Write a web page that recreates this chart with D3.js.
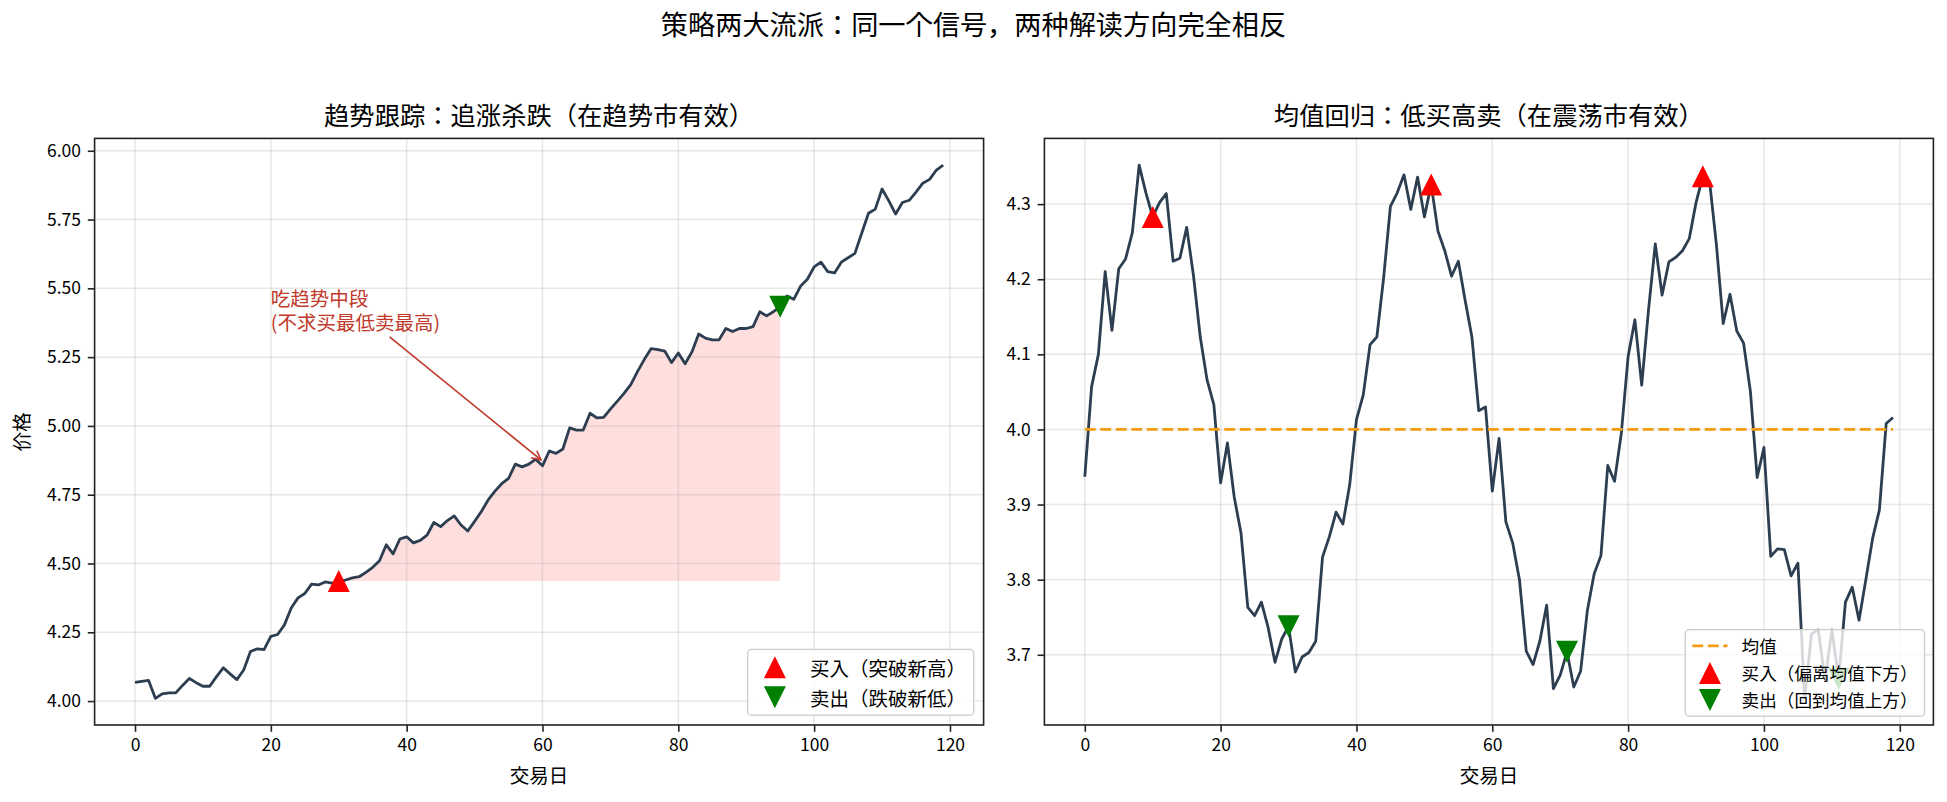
<!DOCTYPE html>
<html>
<head>
<meta charset="utf-8">
<script src="https://d3js.org/d3.v7.min.js"></script>
<style>
  body { margin: 0; background: #fff; }
  text { font-family: "Noto Sans CJK JP", "Noto Sans CJK SC", "Noto Sans", sans-serif; fill: #000; }
</style>
</head>
<body>
<svg id="chart" width="1947" height="802"></svg>
<script>
// ---- data ----
var suptitle = "策略两大流派：同一个信号，两种解读方向完全相反";
var leftTitle = "趋势跟踪：追涨杀跌（在趋势市有效）";
var rightTitle = "均值回归：低买高卖（在震荡市有效）";
var xLabel = "交易日";
var yLabel = "价格";

var xTicks = [0, 20, 40, 60, 80, 100, 120];
var trendTicks = [4.00, 4.25, 4.50, 4.75, 5.00, 5.25, 5.50, 5.75, 6.00];
var revertTicks = [3.7, 3.8, 3.9, 4.0, 4.1, 4.2, 4.3];

// trend-following price, one value per trading day (0..119)
var trendPrice = [
  4.068, 4.072, 4.075, 4.010, 4.026, 4.030, 4.030, 4.057, 4.082, 4.067,
  4.054, 4.054, 4.089, 4.121, 4.099, 4.078, 4.113, 4.180, 4.190, 4.187,
  4.235, 4.242, 4.277, 4.338, 4.375, 4.391, 4.425, 4.422, 4.433, 4.429,
  4.436, 4.440, 4.448, 4.452, 4.468, 4.486, 4.510, 4.568, 4.535, 4.589,
  4.597, 4.575, 4.584, 4.603, 4.649, 4.634, 4.656, 4.673, 4.640, 4.618,
  4.653, 4.689, 4.731, 4.763, 4.790, 4.809, 4.861, 4.851, 4.861, 4.879,
  4.855, 4.909, 4.900, 4.916, 4.993, 4.985, 4.985, 5.046, 5.029, 5.031,
  5.061, 5.089, 5.118, 5.150, 5.198, 5.242, 5.281, 5.277, 5.272, 5.230,
  5.265, 5.226, 5.269, 5.334, 5.319, 5.313, 5.313, 5.354, 5.343, 5.354,
  5.354, 5.361, 5.415, 5.400, 5.415, 5.433, 5.472, 5.460, 5.508, 5.533,
  5.578, 5.595, 5.561, 5.556, 5.595, 5.611, 5.627, 5.700, 5.773, 5.788,
  5.861, 5.818, 5.770, 5.812, 5.820, 5.850, 5.882, 5.896, 5.930, 5.948
];
var trendBuyDays = [30];
var trendSellDays = [95];
var trendNote = ["吃趋势中段", "(不求买最低卖最高)"];
var trendNoteAt = [20, 5.35];
var trendNoteTarget = [60, 4.872];

// mean-reversion price, one value per trading day (0..119)
var revertPrice = [
  3.937, 4.057, 4.100, 4.210, 4.132, 4.214, 4.227, 4.262, 4.352, 4.315,
  4.283, 4.302, 4.314, 4.224, 4.228, 4.269, 4.205, 4.123, 4.066, 4.033,
  3.929, 3.982, 3.910, 3.862, 3.763, 3.752, 3.770, 3.736, 3.690, 3.721,
  3.738, 3.677, 3.697, 3.703, 3.718, 3.830, 3.857, 3.890, 3.874, 3.926,
  4.013, 4.046, 4.113, 4.123, 4.202, 4.297, 4.315, 4.339, 4.293, 4.336,
  4.283, 4.326, 4.264, 4.238, 4.204, 4.224, 4.172, 4.123, 4.025, 4.030,
  3.918, 3.988, 3.877, 3.849, 3.800, 3.705, 3.687, 3.718, 3.766, 3.655,
  3.673, 3.704, 3.657, 3.678, 3.759, 3.808, 3.832, 3.952, 3.931, 3.995,
  4.097, 4.146, 4.059, 4.159, 4.247, 4.179, 4.223, 4.229, 4.238, 4.254,
  4.302, 4.337, 4.330, 4.246, 4.141, 4.180, 4.131, 4.115, 4.051, 3.936,
  3.976, 3.831, 3.841, 3.840, 3.805, 3.822, 3.642, 3.728, 3.733, 3.667,
  3.733, 3.668, 3.770, 3.790, 3.746, 3.800, 3.855, 3.893, 4.008, 4.016
];
var revertMean = 4.0;
var revertBuyDays = [10, 51, 91];
var revertSellDays = [30, 71, 111];

var trendLegend = ["买入（突破新高）", "卖出（跌破新低）"];
var revertLegend = ["均值", "买入（偏离均值下方）", "卖出（回到均值上方）"];

// ---- styling ----
var LINE = "#2c3e50", NOTE = "#c0392b", MEAN = "#f39c12";
var BUY = "#ff0000", SELL = "#008000";
var TICK_FS = 17.5, LABEL_FS = 19.5, TITLE_FS = 25.3, SUP_FS = 27.2;
var MARKER = 22;

var svg = d3.select("#chart");

svg.append("text")
  .attr("x", 973.5).attr("y", 35)
  .attr("text-anchor", "middle")
  .style("font-size", SUP_FS + "px")
  .text(suptitle);

function pad(ext) {
  var m = (ext[1] - ext[0]) * 0.05;
  return [ext[0] - m, ext[1] + m];
}

function triPath(s, up) {
  var h = s / 2;
  return up ? "M0," + (-h) + "L" + h + "," + h + "L" + (-h) + "," + h + "Z"
            : "M0," + h + "L" + h + "," + (-h) + "L" + (-h) + "," + (-h) + "Z";
}

function panel(cfg) {
  var g = svg.append("g");
  var x = d3.scaleLinear().domain(pad([0, cfg.values.length - 1])).range([cfg.left, cfg.right]);
  var y = d3.scaleLinear().domain(pad(d3.extent(cfg.values))).range([cfg.bottom, cfg.top]);

  // shaded region (drawn below the grid, like matplotlib)
  if (cfg.fill) {
    var idx = d3.range(cfg.fill[0], cfg.fill[1] + 1);
    var base = cfg.values[cfg.fill[0]];
    g.append("path")
      .attr("d", d3.area()
        .x(function(i) { return x(i); })
        .y0(function() { return y(base); })
        .y1(function(i) { return y(cfg.values[i]); })(idx))
      .attr("fill", "rgba(255,0,0,0.13)");
  }

  // grid
  var grid = g.append("g").attr("stroke", "#b0b0b0").attr("stroke-opacity", 0.3).attr("stroke-width", 1.5);
  xTicks.forEach(function(t) {
    grid.append("line").attr("x1", x(t)).attr("x2", x(t)).attr("y1", cfg.top).attr("y2", cfg.bottom);
  });
  cfg.yTicks.forEach(function(t) {
    grid.append("line").attr("x1", cfg.left).attr("x2", cfg.right).attr("y1", y(t)).attr("y2", y(t));
  });

  // price line
  g.append("path")
    .datum(cfg.values)
    .attr("d", d3.line().x(function(d, i) { return x(i); }).y(function(d) { return y(d); }))
    .attr("fill", "none").attr("stroke", LINE).attr("stroke-width", 2.8)
    .attr("stroke-linejoin", "round");

  if (cfg.mean != null) {
    g.append("line")
      .attr("x1", x(0)).attr("x2", x(cfg.values.length - 1))
      .attr("y1", y(cfg.mean)).attr("y2", y(cfg.mean))
      .attr("stroke", MEAN).attr("stroke-width", 2.8).attr("stroke-dasharray", "10.8,4.7");
  }

  // signals
  g.selectAll(".buy").data(cfg.buy).enter().append("path")
    .attr("transform", function(d) { return "translate(" + x(d) + "," + y(cfg.values[d]) + ")"; })
    .attr("d", triPath(MARKER, true)).attr("fill", BUY);
  g.selectAll(".sell").data(cfg.sell).enter().append("path")
    .attr("transform", function(d) { return "translate(" + x(d) + "," + y(cfg.values[d]) + ")"; })
    .attr("d", triPath(MARKER, false)).attr("fill", SELL);

  // axes
  var ax = g.append("g").attr("transform", "translate(0," + cfg.bottom + ")")
    .call(d3.axisBottom(x).tickValues(xTicks).tickSize(6.8).tickPadding(6.8).tickFormat(d3.format("d")));
  var ay = g.append("g").attr("transform", "translate(" + cfg.left + ",0)")
    .call(d3.axisLeft(y).tickValues(cfg.yTicks).tickSize(6.8).tickPadding(6.8).tickFormat(d3.format(cfg.fmt)));
  [ax, ay].forEach(function(a) {
    a.select(".domain").remove();
    a.selectAll("line").attr("stroke", "#222").attr("stroke-width", 1.6);
    a.selectAll("text").style("font-size", TICK_FS + "px").attr("fill", "#000");
  });

  g.append("rect")
    .attr("x", cfg.left).attr("y", cfg.top)
    .attr("width", cfg.right - cfg.left).attr("height", cfg.bottom - cfg.top)
    .attr("fill", "none").attr("stroke", "#222").attr("stroke-width", 1.6);

  g.append("text")
    .attr("x", (cfg.left + cfg.right) / 2).attr("y", cfg.top - 13)
    .attr("text-anchor", "middle").style("font-size", TITLE_FS + "px")
    .text(cfg.title);

  g.append("text")
    .attr("x", (cfg.left + cfg.right) / 2).attr("y", 782.5)
    .attr("text-anchor", "middle").style("font-size", LABEL_FS + "px")
    .text(xLabel);

  if (cfg.ylabel) {
    g.append("text")
      .attr("transform", "translate(29," + ((cfg.top + cfg.bottom) / 2) + ") rotate(-90)")
      .attr("text-anchor", "middle").style("font-size", LABEL_FS + "px")
      .text(cfg.ylabel);
  }

  return { g: g, x: x, y: y };
}

function legend(p, items, f, right, bottom) {
  var padB = 0.4 * f, rowH = 1.04 * f, gap = 0.5 * f, hl = 2 * f, htp = 0.8 * f;
  var h = 2 * padB + items.length * rowH + (items.length - 1) * gap;
  var lg = p.g.append("g");
  var box = lg.append("rect");
  var maxW = 0;
  items.forEach(function(it, i) {
    var cy = padB + rowH / 2 + i * (rowH + gap);
    var hx = padB + hl / 2;
    if (it.kind === "dash") {
      lg.append("line").attr("x1", padB).attr("x2", padB + hl).attr("y1", cy).attr("y2", cy)
        .attr("stroke", MEAN).attr("stroke-width", 2.8).attr("stroke-dasharray", "10.8,4.7");
    } else {
      lg.append("path").attr("transform", "translate(" + hx + "," + cy + ")")
        .attr("d", triPath(MARKER, it.kind === "buy"))
        .attr("fill", it.kind === "buy" ? BUY : SELL);
    }
    var t = lg.append("text").attr("x", padB + hl + htp).attr("y", cy)
      .attr("dominant-baseline", "central").style("font-size", f + "px").text(it.label);
    maxW = Math.max(maxW, t.node().getComputedTextLength());
  });
  var w = 2 * padB + hl + htp + maxW;
  box.attr("width", w).attr("height", h).attr("rx", 4)
    .attr("fill", "#fff").attr("fill-opacity", 0.8)
    .attr("stroke", "#cccccc").attr("stroke-width", 1.3);
  lg.attr("transform", "translate(" + (right - w) + "," + (bottom - h) + ")");
}

// ---- left panel: trend following ----
var L = panel({
  values: trendPrice, left: 94.6, right: 983.6, top: 138.4, bottom: 725,
  yTicks: trendTicks, fmt: ".2f", title: leftTitle, ylabel: yLabel,
  buy: trendBuyDays, sell: trendSellDays,
  fill: [trendBuyDays[0], trendSellDays[0]]
});

// annotation with arrow (two lines, second baseline at the anchor)
var noteX = L.x(trendNoteAt[0]), noteY = L.y(trendNoteAt[1]);
var noteLines = L.g.append("g");
trendNote.forEach(function(s, i) {
  noteLines.append("text")
    .attr("x", noteX).attr("y", noteY - (trendNote.length - 1 - i) * 24)
    .style("font-size", LABEL_FS + "px").attr("fill", NOTE)
    .style("fill", NOTE)
    .text(s);
});

(function() {
  var bb = noteLines.node().getBBox();
  var cx = bb.x + bb.width / 2, cy = bb.y + bb.height / 2;
  var tx = L.x(trendNoteTarget[0]), ty = L.y(trendNoteTarget[1]);
  var dx = tx - cx, dy = ty - cy, len = Math.sqrt(dx * dx + dy * dy);
  var ux = dx / len, uy = dy / len;
  // leave the text box along the line, then shrink by 2px at both ends
  var tBox = Math.min(Math.abs((bb.width / 2) / ux), Math.abs((bb.height / 2) / uy));
  var sx = cx + ux * (tBox + 2), sy = cy + uy * (tBox + 2);
  var ex = tx - ux * 2, ey = ty - uy * 2;
  var hLen = 9, hW = 4.5;
  L.g.append("line").attr("x1", sx).attr("y1", sy).attr("x2", ex).attr("y2", ey)
    .attr("stroke", NOTE).attr("stroke-width", 1.6);
  var bx = ex - ux * hLen, by = ey - uy * hLen;
  L.g.append("path")
    .attr("d", "M" + (bx - uy * hW) + "," + (by + ux * hW) + "L" + ex + "," + ey + "L" + (bx + uy * hW) + "," + (by - ux * hW))
    .attr("fill", "none").attr("stroke", NOTE).attr("stroke-width", 1.6);
})();

legend(L, [
  { kind: "buy", label: trendLegend[0] },
  { kind: "sell", label: trendLegend[1] }
], 19.5, 983.6 - 9.8, 725 - 9.8);

// ---- right panel: mean reversion ----
var R = panel({
  values: revertPrice, left: 1044.4, right: 1933.4, top: 138.4, bottom: 725,
  yTicks: revertTicks, fmt: ".1f", title: rightTitle, ylabel: null,
  buy: revertBuyDays, sell: revertSellDays, mean: revertMean
});

legend(R, [
  { kind: "dash", label: revertLegend[0] },
  { kind: "buy", label: revertLegend[1] },
  { kind: "sell", label: revertLegend[2] }
], 17.6, 1933.4 - 8.8, 725 - 8.8);
</script>
</body>
</html>
